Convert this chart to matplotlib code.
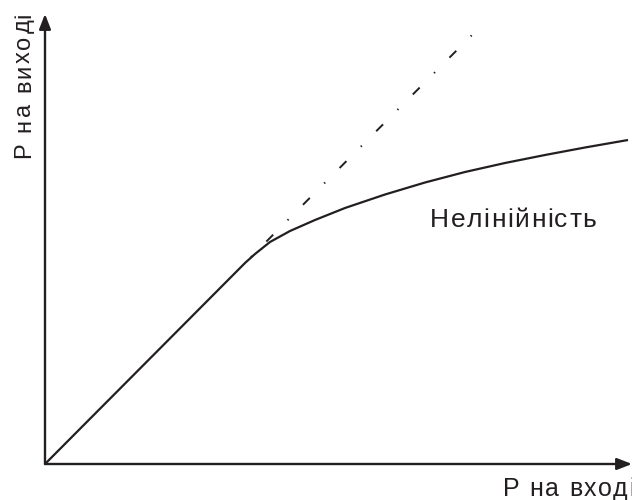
import matplotlib
matplotlib.use("Agg")
import matplotlib.pyplot as plt
from matplotlib.transforms import offset_copy
from matplotlib.font_manager import FontProperties

plt.rcParams['font.family'] = ['Liberation Sans', 'DejaVu Sans']
plt.rcParams['lines.scale_dashes'] = False

# Transfer characteristic: output power vs input power (arbitrary units)
p_in = [0.0, 2.00, 2.10, 2.25, 2.45, 2.70, 3.00, 3.40, 3.80, 4.20,
        4.60, 5.00, 5.40, 5.83]
p_out = [0.0, 2.01, 2.10, 2.22, 2.33, 2.44, 2.56, 2.695, 2.815, 2.92,
         3.01, 3.09, 3.165, 3.24]

# Ideal linear continuation beyond the knee
ideal_in = [2.00, 4.28]
ideal_out = [2.01, 4.30]

ink = '#231f20'

fig = plt.figure(figsize=(6.32, 5.0), dpi=100)
ax = fig.add_axes([0, 0, 1, 1])
ax.set_xlim(-0.45, 5.87)
ax.set_ylim(-0.36, 4.64)
ax.axis('off')

renderer = fig.canvas.get_renderer()


def spaced_text(x, y, s, size, track, vertical=False):
    """Draw text letter by letter with extra tracking (in pixels)."""
    prop = FontProperties(family=['Liberation Sans', 'DejaVu Sans'], size=size)
    pos = 0.0
    for ch in s:
        dx, dy = (0, pos) if vertical else (pos, 0)
        tr = offset_copy(ax.transData, fig=fig, x=dx, y=dy, units='dots')
        ax.text(x, y, ch, transform=tr, fontproperties=prop, color=ink,
                ha='left', va='baseline', rotation=90 if vertical else 0,
                rotation_mode='anchor')
        w, _, _ = renderer.get_text_width_height_descent(ch, prop, ismath=False)
        pos += w + track


# Axes with arrowheads
arrow = dict(arrowstyle='-|>,head_length=0.9,head_width=0.35', color=ink,
             lw=1.7, shrinkA=0, shrinkB=0)
ax.annotate('', xy=(5.87, 0), xytext=(0, 0), arrowprops=arrow)
ax.annotate('', xy=(0, 4.50), xytext=(0, 0), arrowprops=arrow)

ax.plot(p_in, p_out, color=ink, lw=1.6, solid_capstyle='butt',
        solid_joinstyle='round')
ax.plot(ideal_in, ideal_out, color=ink, lw=1.4,
        linestyle=(31.3, (1.0, 14.7, 7, 14.67)))

spaced_text(3.85, 2.37, 'Нелінійність', 19, 1.5)
spaced_text(4.58, -0.32, 'P на вході', 18, 1.5)
spaced_text(-0.15, 3.06, 'P на виході', 17, 2.1, vertical=True)

fig.savefig('out.png', dpi=100)
